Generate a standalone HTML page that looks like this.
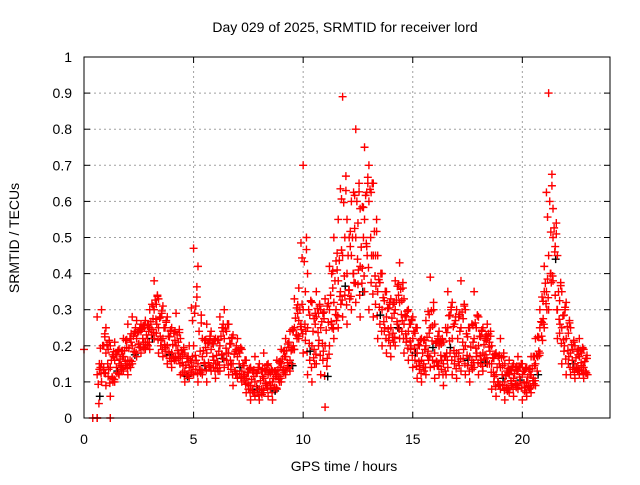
<!DOCTYPE html>
<html><head><meta charset="utf-8"><style>
body{margin:0;background:#fff;}
svg text{font-family:"Liberation Sans",sans-serif;font-size:14px;fill:#000;}
</style></head><body>
<svg id="chart" width="640" height="480" xmlns="http://www.w3.org/2000/svg">
<rect width="640" height="480" fill="#fff"/>
<text x="345" y="32" text-anchor="middle">Day 029 of 2025, SRMTID for receiver lord</text>
<text transform="translate(19,238) rotate(-90)" text-anchor="middle">SRMTID / TECUs</text>
<text x="344" y="471" text-anchor="middle">GPS time / hours</text>
<g id="grid"></g>
<g id="ticks"></g>
<g id="marks"></g>
<rect x="84" y="57" width="526" height="361" fill="none" stroke="#000" stroke-width="1"/>
</svg>
<script>
const xTicks=[0,5,10,15,20];
const yTicks=[0,0.1,0.2,0.3,0.4,0.5,0.6,0.7,0.8,0.9,1];
const yTickLabels=["0","0.1","0.2","0.3","0.4","0.5","0.6","0.7","0.8","0.9","1"];
const times=[0.6,0.8,1.0,1.2,1.4,1.6,1.8,2.0,2.2,2.4,2.6,2.8,3.0,3.2,3.4,3.6,3.8,4.0,4.2,4.4,4.6,4.8,5.0,5.2,5.4,5.6,5.8,6.0,6.2,6.4,6.6,6.8,7.0,7.2,7.4,7.6,7.8,8.0,8.2,8.4,8.6,8.8,9.0,9.2,9.4,9.6,9.8,10.0,10.2,10.4,10.6,10.8,11.0,11.2,11.4,11.6,11.8,12.0,12.2,12.4,12.6,12.8,13.0,13.2,13.4,13.6,13.8,14.0,14.2,14.4,14.6,14.8,15.0,15.2,15.4,15.6,15.8,16.0,16.2,16.4,16.6,16.8,17.0,17.2,17.4,17.6,17.8,18.0,18.2,18.4,18.6,18.8,19.0,19.2,19.4,19.6,19.8,20.0,20.2,20.4,20.6,20.8,21.0,21.2,21.4,21.6,21.8,22.0,22.2,22.4,22.6,22.8];
const seriesA=[0.00,0.15,0.18,0.14,0.16,0.15,0.17,0.16,0.20,0.22,0.24,0.21,0.25,0.30,0.25,0.22,0.20,0.18,0.20,0.17,0.13,0.14,0.20,0.15,0.17,0.18,0.19,0.15,0.20,0.22,0.18,0.15,0.17,0.13,0.11,0.09,0.10,0.08,0.11,0.12,0.10,0.12,0.15,0.17,0.16,0.25,0.27,0.30,0.25,0.20,0.28,0.25,0.20,0.30,0.32,0.38,0.45,0.40,0.45,0.50,0.42,0.55,0.60,0.45,0.35,0.30,0.28,0.25,0.30,0.32,0.26,0.24,0.22,0.18,0.16,0.20,0.25,0.18,0.20,0.15,0.25,0.22,0.18,0.25,0.20,0.17,0.22,0.20,0.18,0.22,0.15,0.12,0.14,0.10,0.12,0.11,0.13,0.12,0.10,0.12,0.15,0.25,0.35,0.45,0.50,0.30,0.25,0.22,0.18,0.15,0.17,0.14];
const seriesB=[0.28,0.30,0.25,0.20,0.21,0.19,0.22,0.26,0.28,0.27,0.26,0.27,0.30,0.38,0.33,0.31,0.28,0.25,0.29,0.22,0.18,0.20,0.47,0.42,0.22,0.26,0.24,0.22,0.28,0.30,0.26,0.23,0.22,0.19,0.16,0.14,0.17,0.15,0.18,0.15,0.13,0.16,0.19,0.22,0.24,0.33,0.36,0.70,0.40,0.32,0.35,0.30,0.33,0.42,0.50,0.55,0.89,0.55,0.60,0.80,0.58,0.75,0.70,0.65,0.45,0.40,0.35,0.33,0.38,0.43,0.33,0.30,0.28,0.25,0.22,0.27,0.39,0.26,0.24,0.21,0.35,0.32,0.30,0.38,0.30,0.25,0.35,0.28,0.25,0.26,0.20,0.18,0.22,0.15,0.16,0.15,0.17,0.15,0.14,0.17,0.22,0.30,0.42,0.90,0.58,0.45,0.35,0.32,0.25,0.20,0.22,0.19];
const seriesC=[0.12,0.10,0.09,0.06,0.10,0.12,0.13,0.12,0.15,0.17,0.18,0.19,0.19,0.22,0.18,0.17,0.15,0.14,0.16,0.12,0.10,0.11,0.12,0.10,0.12,0.10,0.13,0.11,0.13,0.14,0.12,0.09,0.11,0.10,0.07,0.05,0.06,0.05,0.07,0.06,0.05,0.08,0.10,0.12,0.13,0.19,0.22,0.18,0.12,0.10,0.15,0.12,0.03,0.20,0.22,0.25,0.28,0.26,0.30,0.32,0.28,0.35,0.30,0.28,0.22,0.20,0.18,0.17,0.20,0.22,0.18,0.16,0.14,0.11,0.10,0.12,0.14,0.11,0.12,0.09,0.14,0.12,0.11,0.13,0.12,0.10,0.14,0.12,0.13,0.15,0.08,0.06,0.08,0.05,0.07,0.06,0.08,0.05,0.06,0.07,0.09,0.18,0.25,0.30,0.38,0.22,0.15,0.12,0.12,0.11,0.12,0.11];
const extraTimes=[0.0,0.4,0.6,1.2];
const extraValues=[0.19,0.0,0.0,0.0];
const X0=84,X1=610,Y0=418,Y1=57,XMAX=24;
function xs(t){return X0+(X1-X0)*t/XMAX;}
function ys(v){return Y0-(Y0-Y1)*v;}
const NS="http://www.w3.org/2000/svg";
function mk(tag,attrs,parent){const e=document.createElementNS(NS,tag);for(const k in attrs)e.setAttribute(k,attrs[k]);parent.appendChild(e);return e;}
const grid=document.getElementById('grid'),ticks=document.getElementById('ticks'),marks=document.getElementById('marks');
yTicks.forEach((v,i)=>{
 const y=ys(v);
 if(i>0&&i<yTicks.length-1){const g=mk('line',{x1:X0,x2:X1,y1:y,y2:y,stroke:'#a0a0a0','stroke-dasharray':'2,3'},grid);
 
 }
 mk('line',{x1:X0,x2:X0+6,y1:y,y2:y,stroke:'#000'},ticks);
 mk('line',{x1:X1,x2:X1-6,y1:y,y2:y,stroke:'#000'},ticks);
 const t=mk('text',{x:X0-12,y:y+5,'text-anchor':'end'},ticks);
 
 
 t.textContent=yTickLabels[i];
});
xTicks.forEach(v=>{
 const x=xs(v);
 if(v>0){const g=mk('line',{x1:x,x2:x,y1:Y0,y2:Y1,stroke:'#a0a0a0','stroke-dasharray':'2,3'},grid);
 
 }
 mk('line',{x1:x,x2:x,y1:Y0,y2:Y0-6,stroke:'#000'},ticks);
 mk('line',{x1:x,x2:x,y1:Y1,y2:Y1+6,stroke:'#000'},ticks);
 const t=mk('text',{x:x,y:Y0+26,'text-anchor':'middle'},ticks);
 
 
 t.textContent=String(v);
});
function plus(t,v,col){
 const x=xs(t),y=ys(v);
 const p=mk('path',{d:`M${x-4},${y}H${x+4}M${x},${y-4}V${y+4}`,stroke:col,'stroke-width':1.4,fill:'none'},marks);
 
 
}
const R='#f00';
times.forEach((t,i)=>{
 const a=seriesA[i],b=seriesB[i],c=seriesC[i];
 const j=Math.min(i+1,times.length-1);
 const a2=seriesA[j],b2=seriesB[j],c2=seriesC[j];
 plus(t+0.12,(a+c)/2,i%4===0?'#000':R);
 plus(t,c,R);
 plus(t,a,R);plus(t,b,R);
 plus(t+0.05,(a*2+b)/3,R);plus(t+0.08,(a*2+c)/3,R);
 plus(t+0.1,(a+b2)/2,R);plus(t+0.1,(c+a2)/2,R);
 plus(t+0.15,(a+b)/2,R);plus(t+0.15,(b+b2+a)/3,R);
 plus(t+0.18,(c+c2+a2)/3,R);
});
extraTimes.forEach((t,i)=>plus(t,extraValues[i],R));
</script>
</body></html>
